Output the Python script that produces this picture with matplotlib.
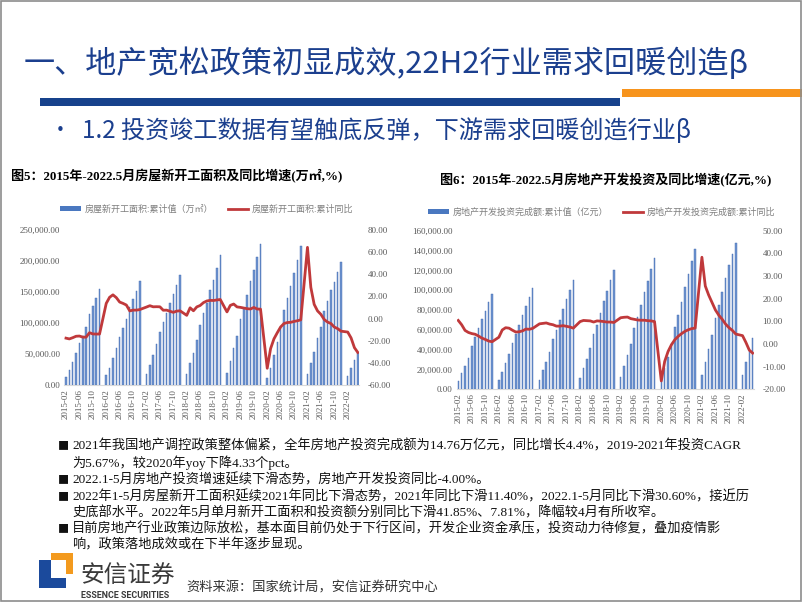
import matplotlib
matplotlib.use("Agg")
import matplotlib.pyplot as plt
from matplotlib.patches import Rectangle, Patch
from matplotlib.lines import Line2D
from matplotlib.ticker import FuncFormatter

plt.rcParams['font.family'] = ['Noto Sans CJK SC', 'DejaVu Sans']

SERIF = ['Liberation Serif', 'Noto Sans CJK SC']

# ---- data (2015-02 .. 2022-05, Jan not published) ----
# 房屋新开工面积:累计值 (万㎡), Feb..Dec per year, 2022 Feb..May
start_area = [
    13400, 24000, 36500, 51000, 67000, 79000, 94000, 114000, 127000, 141000, 154000,
    16000, 27000, 43000, 59000, 78000, 92000, 107000, 125000, 138000, 151000, 167000,
    18000, 32000, 48000, 66000, 86000, 101000, 116000, 132000, 146000, 162000, 178000,
    18000, 35000, 52000, 73000, 97000, 116000, 132000, 153000, 169000, 189000, 209000,
    19000, 39000, 59000, 79000, 106000, 124000, 145000, 167000, 186000, 206000, 227000,
    10800, 28000, 49000, 70000, 94000, 121000, 140000, 160000, 181000, 201000, 224000,
    17800, 36000, 53000, 75000, 94000, 119000, 135000, 153000, 166000, 182000, 199000,
    15000, 27000, 40000, 52000,
]
# 房屋新开工面积:累计同比 (%)
start_yoy = [
    -17.7, -18.4, -17.3, -16.0, -15.8, -16.8, -16.8, -12.8, -13.9, -14.0, -14.0,
    13.7, 19.2, 21.4, 18.9, 14.9, 13.7, 12.2, 6.9, 7.6, 7.6, 8.1,
    10.4, 11.6, 10.6, 10.7, 10.6, 7.5, 7.6, 6.6, 5.6, 6.7, 7.0,
    2.9, 9.7, 7.0, 10.5, 11.8, 14.4, 15.9, 16.4, 16.3, 16.8, 17.2,
    6.0, 11.9, 13.1, 10.5, 10.1, 9.5, 8.9, 8.6, 10.0, 8.6, 8.5,
    -44.9, -27.2, -18.4, -12.8, -7.6, -4.5, -3.6, -3.4, -2.6, -2.0, -1.2,
    64.3, 28.2, 12.8, 6.9, 3.8, -0.9, -3.2, -4.5, -7.7, -9.1, -11.4,
    -12.2, -17.5, -26.3, -30.6,
]
# 房地产开发投资完成额:累计值 (亿元)
invest = [
    8786, 16214, 23669, 32011, 44165, 53074, 61493, 70651, 78801, 87702, 95979,
    9311, 17677, 26102, 35132, 46631, 55932, 64573, 74598, 84307, 93387, 102581,
    9854, 19292, 27732, 37619, 50610, 59761, 69694, 80644, 91383, 100387, 109799,
    10927, 21108, 30592, 41781, 55531, 64855, 76519, 88948, 99325, 110083, 120264,
    12090, 23803, 34217, 46075, 61609, 72843, 84589, 98008, 109603, 121265, 132194,
    10115, 21963, 33103, 45920, 62780, 75325, 88454, 103484, 116556, 129492, 141443,
    13986, 27576, 40240, 54318, 72179, 84895, 98060, 112568, 124934, 136443, 147602,
    14499, 27765, 39154, 52134,
]
# 房地产开发投资完成额:累计同比 (%)
invest_yoy = [
    10.4, 8.5, 6.0, 5.1, 4.6, 4.3, 3.5, 2.6, 2.0, 1.3, 1.0,
    3.0, 6.2, 7.2, 7.0, 6.1, 5.3, 5.4, 5.8, 6.6, 6.5, 6.9,
    8.9, 9.1, 9.3, 8.8, 8.5, 7.9, 7.9, 8.1, 7.8, 7.5, 7.0,
    9.9, 10.4, 10.3, 10.2, 9.7, 10.2, 10.1, 9.9, 9.7, 9.7, 9.5,
    11.6, 11.8, 11.9, 11.2, 10.9, 10.6, 10.5, 10.5, 10.3, 10.2, 9.9,
    -16.3, -7.7, -3.3, -0.3, 1.9, 3.4, 4.6, 5.6, 6.3, 6.8, 7.0,
    38.3, 25.6, 21.6, 18.3, 15.0, 12.7, 10.9, 8.8, 7.2, 6.0, 4.4,
    3.7, 0.7, -2.7, -4.0,
]

# category axis includes empty January slots
n_cat = 88
cat_labels = ["%d-%02d" % (2015 + (i + 1) // 12, (i + 1) % 12 + 1) for i in range(n_cat)]
data_x = [i for i in range(n_cat) if (i + 1) % 12 != 0]
tick_pos = list(range(0, n_cat, 4))

BAR = '#6F95D0'
BAR_EDGE = '#3F68B0'
RED = '#C0393B'
NAVY = '#1B3F8E'
GRAY = '#7F7F7F'

W, H = 802, 602
fig = plt.figure(figsize=(W / 100, H / 100), dpi=100)


def fx(x):
    return x / W


def fy(y):
    return 1 - y / H


def money(v, p):
    return f"{v:,.2f}"


def pct(v, p):
    return f"{v:.2f}"


def draw_chart(rect, bars, line, ylim, yticks, y2lim, y2ticks):
    ax = fig.add_axes(rect)
    ax.bar(data_x, bars, width=0.45, color=BAR, edgecolor=BAR_EDGE, linewidth=0.3, zorder=2)
    ax.set_xlim(-0.5, n_cat - 0.5)
    ax.set_ylim(*ylim)
    ax.set_yticks(yticks)
    ax.yaxis.set_major_formatter(FuncFormatter(money))
    ax.set_xticks(tick_pos)
    ax.set_xticklabels([cat_labels[i] for i in tick_pos], rotation=90)
    for s in ['top', 'right', 'left']:
        ax.spines[s].set_visible(False)
    ax.spines['bottom'].set_color('#D9D9D9')
    ax.tick_params(length=0, labelsize=6.5, labelcolor='#595959', pad=3)
    for t in ax.get_xticklabels() + ax.get_yticklabels():
        t.set_fontfamily(SERIF)
    ax2 = ax.twinx()
    ax2.plot(data_x, line, color=RED, lw=2.0, zorder=3, solid_joinstyle='round')
    ax2.set_ylim(*y2lim)
    ax2.set_yticks(y2ticks)
    ax2.yaxis.set_major_formatter(FuncFormatter(pct))
    for s in ax2.spines.values():
        s.set_visible(False)
    ax2.tick_params(length=0, labelsize=6.5, labelcolor='#595959', pad=6)
    for t in ax2.get_yticklabels():
        t.set_fontfamily(SERIF)
    return ax, ax2


draw_chart([0.0802, 0.3605, 0.368, 0.2575], start_area, start_yoy,
           (0, 250000), range(0, 250001, 50000), (-60, 80), range(-60, 81, 20))
draw_chart([0.5693, 0.3533, 0.3713, 0.2634], invest, invest_yoy,
           (0, 160000), range(0, 160001, 20000), (-20, 50), range(-20, 51, 10))

# legends
for cx, cy, names in [
    (207, 209, ['房屋新开工面积:累计值（万㎡）', '房屋新开工面积:累计同比']),
    (602, 212, ['房地产开发投资完成额:累计值（亿元）', '房地产开发投资完成额:累计同比']),
]:
    handles = [Patch(facecolor='#4A78C0', edgecolor='none'),
               Line2D([], [], color=RED, lw=2)]
    fig.legend(handles, names, loc='center', bbox_to_anchor=(fx(cx), fy(cy)),
               ncol=2, frameon=False, fontsize=6.5, labelcolor=GRAY,
               handlelength=2.3, handleheight=0.5, columnspacing=1.6, handletextpad=0.4)

# chart titles
fig.text(fx(11), fy(176), '图5：2015年-2022.5月房屋新开工面积及同比增速(万㎡,%)',
         fontsize=9.4, fontweight='bold', family=SERIF, va='center')
fig.text(fx(440), fy(180), '图6：2015年-2022.5月房地产开发投资及同比增速(亿元,%)',
         fontsize=9.4, fontweight='bold', family=SERIF, va='center')

# header
fig.text(fx(24), fy(64), '一、地产宽松政策初显成效,22H2行业需求回暖创造β',
         fontsize=22.4, color=NAVY, va='center')
fig.patches.append(Rectangle((fx(40), fy(105.5)), fx(620) - fx(40), 7.3 / H,
                             transform=fig.transFigure, color='#17428C', lw=0))
fig.patches.append(Rectangle((fx(621.5), fy(96.7)), fx(802) - fx(621.5), 7.3 / H,
                             transform=fig.transFigure, color='#F7941D', lw=0))
fig.text(fx(50), fy(131), '•', fontsize=15, color=NAVY, va='center')
fig.text(fx(82), fy(131), '1.2 投资竣工数据有望触底反弹，下游需求回暖创造行业β',
         fontsize=17.4, color=NAVY, va='center')

# bullet text
lines = [
    (446, True, '2021年我国地产调控政策整体偏紧，全年房地产投资完成额为14.76万亿元，同比增长4.4%，2019-2021年投资CAGR'),
    (463, False, '为5.67%，较2020年yoy下降4.33个pct。'),
    (480, True, '2022.1-5月房地产投资增速延续下滑态势，房地产开发投资同比-4.00%。'),
    (497, True, '2022年1-5月房屋新开工面积延续2021年同比下滑态势，2021年同比下滑11.40%，2022.1-5月同比下滑30.60%，接近历'),
    (513, False, '史底部水平。2022年5月单月新开工面积和投资额分别同比下滑41.85%、7.81%，降幅较4月有所收窄。'),
    (529, True, '目前房地产行业政策边际放松，基本面目前仍处于下行区间，开发企业资金承压，投资动力待修复，叠加疫情影'),
    (545, False, '响，政策落地成效或在下半年逐步显现。'),
]
for y, bullet, txt in lines:
    if bullet:
        fig.text(fx(58), fy(y), '■', fontsize=8, color='#111111', va='center')
    fig.text(fx(72), fy(y), txt, fontsize=9.5, family=SERIF, color='#111111', va='center')

# logo
for x0, y0, x1, y1, c in [
    (39, 560, 51, 588, '#1B4A9C'),
    (39, 578, 66, 588, '#1B4A9C'),
    (51, 553, 73, 560, '#F39A1E'),
    (66, 553, 73, 574, '#F39A1E'),
]:
    fig.patches.append(Rectangle((fx(x0), fy(y1)), fx(x1) - fx(x0), (y1 - y0) / H,
                                 transform=fig.transFigure, color=c, lw=0))
fig.text(fx(80), fy(576), '安信证券', fontsize=17, color='#3A3A3A', va='center')
fig.text(fx(81), fy(595), 'ESSENCE SECURITIES', fontsize=6.4, fontweight='bold',
         color='#3A3A3A', va='center', family=['Roboto', 'DejaVu Sans'])
fig.text(fx(186), fy(588), '资料来源：国家统计局，安信证券研究中心', fontsize=9.5,
         color='#333333', va='center', style='italic')

# slide border
fig.patches.append(Rectangle((0.0008, 0.001), 0.9978, 0.997, transform=fig.transFigure,
                             fill=False, edgecolor='#8C8C8C', lw=1.2))

fig.savefig('out.png', dpi=100)
